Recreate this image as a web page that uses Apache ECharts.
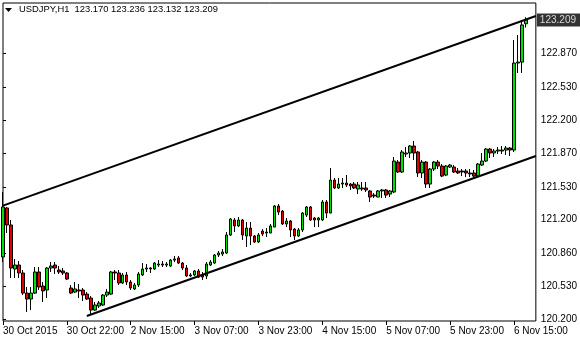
<!DOCTYPE html>
<html><head><meta charset="utf-8">
<script src="https://cdn.jsdelivr.net/npm/echarts@6/dist/echarts.min.js"></script>
<style>html,body{margin:0;padding:0;background:#fff}#c{width:580px;height:340px}</style>
</head><body><div id="c"></div>
<script>
const symbolName = 'USDJPY,H1';
const opens = [120.824,121.317,121.146,120.703,120.743,120.663,120.461,120.401,120.461,120.673,
120.532,120.492,120.713,120.743,120.693,120.683,120.663,120.512,120.471,120.492,
120.492,120.451,120.411,120.290,120.331,120.341,120.441,120.451,120.673,120.663,
120.562,120.643,120.572,120.502,120.542,120.643,120.703,120.713,120.703,120.743,
120.753,120.743,120.733,120.793,120.814,120.763,120.713,120.633,120.643,120.683,
120.643,120.633,120.743,120.763,120.844,120.854,120.864,121.045,121.196,121.136,
121.196,121.035,121.115,121.035,120.975,121.085,121.065,121.065,121.125,121.337,
121.286,121.156,121.186,121.105,121.035,121.096,121.246,121.327,121.216,121.196,
121.196,121.377,121.266,121.598,121.518,121.558,121.568,121.558,121.558,121.508,
121.518,121.518,121.488,121.447,121.427,121.488,121.498,121.457,121.478,121.779,
121.679,121.860,121.870,121.940,121.880,121.669,121.779,121.558,121.709,121.779,
121.739,121.648,121.729,121.729,121.689,121.689,121.689,121.669,121.669,121.638,
121.749,121.789,121.910,121.870,121.890,121.890,121.900,121.920,121.900,122.775,
122.785,123.170];
const closes = [121.327,121.146,120.713,120.743,120.663,120.461,120.401,120.461,120.673,120.522,
120.482,120.713,120.733,120.713,120.673,120.663,120.602,120.461,120.502,120.482,
120.441,120.401,120.290,120.341,120.361,120.441,120.471,120.673,120.663,120.562,
120.643,120.572,120.512,120.542,120.653,120.703,120.713,120.703,120.763,120.753,
120.743,120.753,120.793,120.803,120.763,120.713,120.633,120.643,120.683,120.622,
120.622,120.753,120.773,120.844,120.864,120.874,121.045,121.206,121.136,121.196,
121.045,121.115,121.035,120.975,121.045,121.055,121.075,121.136,121.337,121.276,
121.156,121.186,121.096,121.035,121.096,121.266,121.327,121.196,121.196,121.216,
121.377,121.266,121.598,121.518,121.558,121.568,121.548,121.538,121.518,121.548,
121.508,121.498,121.427,121.437,121.488,121.498,121.447,121.488,121.789,121.679,
121.880,121.870,121.940,121.870,121.669,121.779,121.558,121.709,121.779,121.739,
121.638,121.739,121.749,121.679,121.669,121.679,121.669,121.659,121.638,121.759,
121.789,121.910,121.870,121.890,121.900,121.900,121.920,121.900,122.775,122.785,
123.158,123.209];
const lows = [120.773,121.065,120.612,120.612,120.612,120.441,120.270,120.290,120.451,120.492,
120.371,120.411,120.673,120.653,120.653,120.643,120.592,120.451,120.461,120.411,
120.381,120.391,120.240,120.280,120.311,120.331,120.421,120.441,120.592,120.542,
120.552,120.542,120.492,120.492,120.522,120.633,120.673,120.663,120.693,120.723,
120.723,120.723,120.723,120.773,120.753,120.693,120.622,120.622,120.633,120.612,
120.592,120.602,120.733,120.753,120.824,120.834,120.854,121.035,121.075,121.125,
120.995,120.924,120.944,120.965,120.965,121.035,121.025,121.065,121.125,121.246,
121.146,121.125,121.025,120.995,121.025,121.075,121.226,121.186,121.125,121.125,
121.186,121.216,121.266,121.508,121.508,121.518,121.528,121.498,121.508,121.457,
121.488,121.478,121.377,121.417,121.427,121.417,121.417,121.427,121.467,121.669,
121.669,121.830,121.820,121.799,121.628,121.618,121.518,121.518,121.689,121.709,
121.628,121.638,121.719,121.669,121.659,121.638,121.628,121.628,121.628,121.628,
121.739,121.779,121.820,121.830,121.860,121.860,121.850,121.840,121.880,122.675,
122.675,123.132];
const highs = [121.478,121.327,121.196,120.803,120.783,120.693,120.522,120.522,120.723,120.723,
120.572,120.723,120.773,120.773,120.733,120.713,120.673,120.542,120.572,120.552,
120.512,120.471,120.431,120.371,120.381,120.451,120.502,120.683,120.693,120.693,
120.663,120.673,120.592,120.562,120.673,120.763,120.753,120.723,120.773,120.793,
120.783,120.773,120.803,120.834,120.834,120.773,120.743,120.663,120.693,120.703,
120.673,120.773,120.793,120.854,120.884,120.904,121.075,121.216,121.216,121.226,
121.206,121.176,121.176,121.045,121.065,121.105,121.115,121.156,121.347,121.357,
121.296,121.216,121.196,121.115,121.115,121.276,121.337,121.337,121.226,121.226,
121.397,121.397,121.719,121.618,121.618,121.618,121.649,121.568,121.578,121.578,
121.578,121.578,121.498,121.467,121.498,121.508,121.508,121.498,121.830,121.799,
121.900,121.930,121.950,121.991,121.890,121.799,121.789,121.719,121.789,121.799,
121.759,121.749,121.759,121.749,121.719,121.709,121.709,121.709,121.699,121.769,
121.870,121.920,121.920,121.910,121.930,121.940,121.940,121.930,123.007,123.057,
123.208,123.236];
const xTickBars = [0,16,32,48,64,80,96,112,128];
const xTickLabels = ['30 Oct 2015','30 Oct 22:00','2 Nov 15:00','3 Nov 07:00','3 Nov 23:00','4 Nov 15:00','5 Nov 07:00','5 Nov 23:00','6 Nov 15:00'];
const yTickValues = [120.2,120.53,120.86,121.2,121.53,121.87,122.2,122.53,122.87];
const upperChannel = [[0,121.341],[133.5,123.248]];
const lowerChannel = [[21,120.230],[133.5,121.840]];

const FONT = 'Liberation Sans';
const last = opens.length - 1;
const fmt = v => v.toFixed(3);
const titleText = symbolName + '  ' + [opens[last], highs[last], lows[last], closes[last]].map(fmt).join(' ');
const candleData = opens.map((o, i) => [i, o, closes[i], lows[i], highs[i]]);

const chart = echarts.init(document.getElementById('c'), null, {renderer: 'canvas'});
chart.setOption({
  animation: false,
  backgroundColor: '#fff',
  title: {
    text: titleText, left: 19, top: 5, padding: 0,
    textStyle: {fontFamily: FONT, fontSize: 9.4, fontWeight: 'normal', color: '#000'}
  },
  graphic: [{
    type: 'polygon', shape: {points: [[5, 8], [12, 8], [8.5, 12]]},
    style: {fill: '#000'}
  }],
  grid: {left: 3, top: 3, right: 43, bottom: 19, show: true, borderColor: '#000', borderWidth: 1, backgroundColor: '#fff'},
  xAxis: {
    type: 'value', min: 0, max: 133.5,
    axisLine: {show: false},
    splitLine: {show: false},
    axisTick: {show: true, length: 4, lineStyle: {color: '#000'}, customValues: xTickBars},
    axisLabel: {
      customValues: xTickBars, align: 'left', margin: 5,
      color: '#000', fontFamily: FONT, fontSize: 10,
      formatter: v => xTickLabels[xTickBars.indexOf(Math.round(v))] || ''
    }
  },
  yAxis: {
    type: 'value', position: 'right', min: 120.180, max: 123.379, scale: true,
    axisLine: {show: false},
    splitLine: {show: false},
    axisTick: {show: true, length: 3, lineStyle: {color: '#000'}, customValues: yTickValues},
    axisLabel: {customValues: yTickValues, margin: 5, color: '#000', fontFamily: FONT, fontSize: 10, formatter: v => v.toFixed(3)}
  },
  series: [
    {
      type: 'candlestick',
      data: candleData,
      encode: {x: 0, y: [1, 2, 3, 4]},
      barWidth: 3,
      itemStyle: {color: '#00e000', color0: '#e00000', borderColor: '#000', borderColor0: '#000', borderWidth: 1}
    },
    {
      type: 'line', data: upperChannel, symbol: 'none', clip: false,
      lineStyle: {color: '#000', width: 2}
    },
    {
      type: 'line', data: lowerChannel, symbol: 'none', clip: false,
      lineStyle: {color: '#000', width: 2}
    },
    {
      type: 'scatter', data: [[133.5, closes[last]]], symbolSize: 0, clip: false, silent: true,
      itemStyle: {color: 'rgba(0,0,0,0)'},
      label: {
        show: true, position: 'right', distance: 1,
        formatter: () => fmt(closes[last]),
        backgroundColor: '#000', color: '#fff', fontFamily: FONT, fontSize: 10, padding: [2, 4, 1, 3]
      }
    }
  ]
});
</script></body></html>
